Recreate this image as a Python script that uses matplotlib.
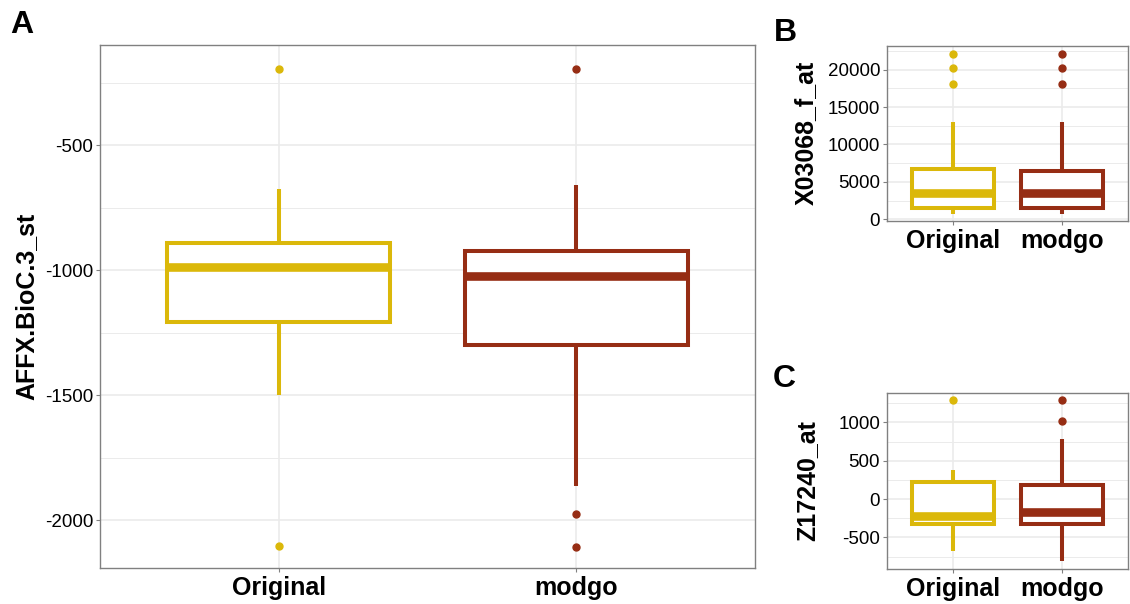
import numpy as np
import matplotlib.pyplot as plt
from matplotlib.ticker import MultipleLocator

plt.rcParams['font.family'] = ['Liberation Sans', 'DejaVu Sans']
plt.rcParams['axes.unicode_minus'] = False

groups = ['Original', 'modgo']
colors = ['#DBB80A', '#962D14']

# panel A: AFFX.BioC.3_st
a_med = [-985, -1024]
a_q1 = [-1205, -1299]
a_q3 = [-891, -923]
a_lo = [-1499, -1862]
a_hi = [-674, -657]
a_out = [[-195, -2101], [-195, -1976, -2105]]

# panel B: X03068_f_at
b_med = [3500, 3500]
b_q1 = [1550, 1550]
b_q3 = [6760, 6440]
b_lo = [750, 750]
b_hi = [12990, 12990]
b_out = [[18075, 20214, 22139], [18075, 20214, 22139]]

# panel C: Z17240_at
c_med = [-220, -162]
c_q1 = [-331, -327]
c_q3 = [217, 178]
c_lo = [-675, -802]
c_hi = [383, 783]
c_out = [[1287], [1013, 1287]]


def panel(ax, med, q1, q3, lo, hi, out, major, ylim):
    for i in range(len(groups)):
        c = colors[i]
        st = dict(med=med[i], q1=q1[i], q3=q3[i], whislo=lo[i], whishi=hi[i],
                  fliers=out[i])
        ax.bxp([st], positions=[i + 1], widths=0.75, showcaps=False,
               patch_artist=True,
               boxprops=dict(facecolor='white', edgecolor=c, linewidth=2.9),
               medianprops=dict(color=c, linewidth=6.2, solid_capstyle='butt'),
               whiskerprops=dict(color=c, linewidth=2.9, solid_capstyle='butt'),
               flierprops=dict(marker='o', markerfacecolor=c, markeredgecolor=c,
                               markersize=5))
    ax.set_xlim(0.4, 2.6)
    ax.set_ylim(*ylim)
    ax.set_xticks([1, 2])
    ax.set_xticklabels(groups, fontsize=18, fontweight='bold')
    ax.yaxis.set_major_locator(MultipleLocator(major))
    ax.yaxis.set_minor_locator(MultipleLocator(major / 2))
    ax.set_axisbelow(True)
    ax.grid(which='major', color='#EBEBEB', linewidth=1.2)
    ax.grid(which='minor', axis='y', color='#EBEBEB', linewidth=0.7)
    ax.tick_params(which='major', length=3, width=0.8, color='#808080',
                   labelsize=13.5, pad=2)
    ax.tick_params(axis='x', pad=3, labelsize=18)
    ax.tick_params(which='minor', length=0)
    for s in ax.spines.values():
        s.set_color('#808080')
        s.set_linewidth(1.0)


fig = plt.figure(figsize=(11.3, 6.04), dpi=100)
W, H = 1130, 604

axA = fig.add_axes([100 / W, 1 - 568 / H, 655 / W, 523 / H])
axB = fig.add_axes([887 / W, 1 - 221 / H, 241 / W, 175 / H])
axC = fig.add_axes([887 / W, 1 - 569 / H, 241 / W, 176 / H])

panel(axA, a_med, a_q1, a_q3, a_lo, a_hi, a_out, 500, (-2190, -99))
panel(axB, b_med, b_q1, b_q3, b_lo, b_hi, b_out, 5000, (-227, 23155))
panel(axC, c_med, c_q1, c_q3, c_lo, c_hi, c_out, 500, (-912, 1384))

fig.text(26 / W, 1 - 306 / H, 'AFFX.BioC.3_st', rotation=90, ha='center', va='center',
         fontsize=18, fontweight='bold')
fig.text(806 / W, 1 - 133 / H, 'X03068_f_at', rotation=90, ha='center', va='center',
         fontsize=18, fontweight='bold')
fig.text(807 / W, 1 - 481 / H, 'Z17240_at', rotation=90, ha='center', va='center',
         fontsize=18, fontweight='bold')

fig.text(10 / W, 1 - 33 / H, 'A', fontsize=23, fontweight='bold', va='baseline')
fig.text(774 / W, 1 - 41 / H, 'B', fontsize=23, fontweight='bold', va='baseline')
fig.text(773 / W, 1 - 387 / H, 'C', fontsize=23, fontweight='bold', va='baseline')

fig.savefig('out.png', dpi=100)
